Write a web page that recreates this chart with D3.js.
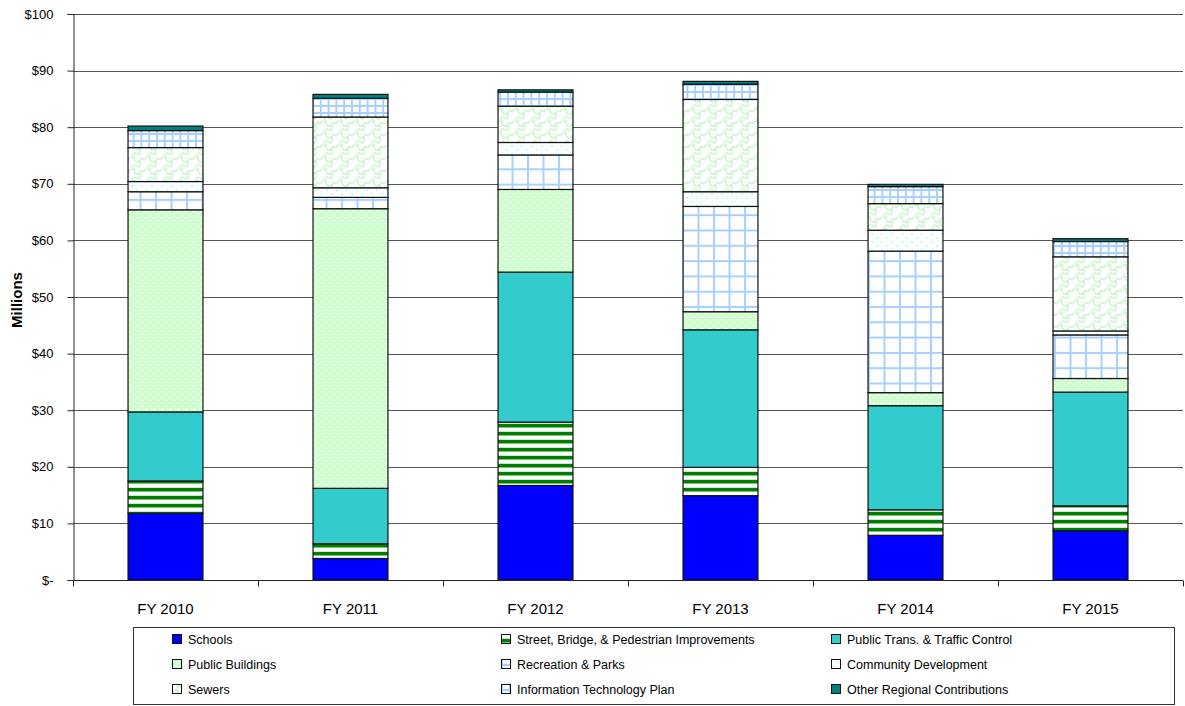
<!DOCTYPE html>
<html>
<head>
<meta charset="utf-8">
<script src="https://cdn.jsdelivr.net/npm/d3@7"></script>
<style>
  html, body { margin: 0; padding: 0; background: #fff; }
  svg { display: block; font-family: "Liberation Sans", Arial, sans-serif; }
</style>
</head>
<body>
<svg id="chart" width="1185" height="706"></svg>
<script>
// Capital spending by program area, $ millions
const years = ["FY 2010", "FY 2011", "FY 2012", "FY 2013", "FY 2014", "FY 2015"];
const seriesNames = [
  "Schools",
  "Street, Bridge, & Pedestrian Improvements",
  "Public Trans. & Traffic Control",
  "Public Buildings",
  "Recreation & Parks",
  "Community Development",
  "Sewers",
  "Information Technology Plan",
  "Other Regional Contributions"
];
const schools      = [11.8, 3.8, 16.7, 14.9, 7.9, 8.7];
const streets      = [5.7, 2.6, 11.2, 5.0, 4.5, 4.4];
const publicTrans  = [12.2, 9.8, 26.5, 24.3, 18.4, 20.1];
const publicBldgs  = [35.7, 49.4, 14.6, 3.2, 2.3, 2.4];
const recreation   = [3.2, 2.0, 6.1, 18.6, 25.0, 7.7];
const communityDev = [1.8, 1.7, 2.2, 2.6, 3.7, 0.7];
const sewers       = [6.0, 12.5, 6.4, 16.3, 4.7, 13.1];
const infoTech     = [3.0, 3.3, 2.5, 2.7, 3.0, 2.7];
const otherRegional= [0.8, 0.7, 0.4, 0.5, 0.4, 0.5];
const seriesValues = [schools, streets, publicTrans, publicBldgs, recreation, communityDev, sewers, infoTech, otherRegional];
const yTicks = [0, 10, 20, 30, 40, 50, 60, 70, 80, 90, 100];

const fills = ["#0000ff", "url(#p-street)", "#33cccc", "url(#p-bldg)", "url(#p-rec)",
               "url(#p-cd)", "url(#p-sewer)", "url(#p-it)", "#008080"];

const svg = d3.select("#chart");
const defs = svg.append("defs");

// Fill patterns
function pattern(id, w, h) {
  return defs.append("pattern").attr("id", id).attr("patternUnits", "userSpaceOnUse")
    .attr("width", w).attr("height", h);
}
let p = pattern("p-street", 8, 8);
p.append("rect").attr("width", 8).attr("height", 8).attr("fill", "#fff");
p.append("rect").attr("y", 0).attr("width", 8).attr("height", 3).attr("fill", "#008000");
p.append("rect").attr("y", 3).attr("width", 8).attr("height", 1).attr("fill", "#7fbf7f");
p.append("rect").attr("y", 7).attr("width", 8).attr("height", 1).attr("fill", "#cfe6cf");

p = pattern("p-bldg", 8, 6);
p.append("rect").attr("width", 8).attr("height", 6).attr("fill", "#ccffcc");
p.append("ellipse").attr("cx", 2).attr("cy", 1.5).attr("rx", 1.6).attr("ry", 0.8).attr("fill", "#fff");
p.append("ellipse").attr("cx", 6).attr("cy", 4.5).attr("rx", 1.6).attr("ry", 0.8).attr("fill", "#fff");

p = pattern("p-rec", 15.5, 15.3);
p.append("rect").attr("width", 15.5).attr("height", 15.3).attr("fill", "#fff");
p.append("rect").attr("x", 0).attr("width", 2).attr("height", 15.3).attr("fill", "#a8d0ff");
p.append("rect").attr("y", 0).attr("width", 15.5).attr("height", 2).attr("fill", "#a8d0ff");

p = pattern("p-cd", 10, 8);
p.append("rect").attr("width", 10).attr("height", 8).attr("fill", "#fff");
p.append("circle").attr("cx", 2).attr("cy", 2).attr("r", 0.9).attr("fill", "#99ffff");
p.append("circle").attr("cx", 7).attr("cy", 6).attr("r", 0.9).attr("fill", "#99ffff");

// Wavy interlocking pattern for sewers
p = pattern("p-sewer", 16, 12);
p.append("rect").attr("width", 16).attr("height", 12).attr("fill", "#fff");
p.append("path")
  .attr("d", "M0,4 C3,0 5,0 6,3 C7,7 10,7 12,4 C13,2 15,2 16,4 M4,12 C5,9 7,8 9,10 C10,11 11,11 12,10 M6,3 L6,0 M12,4 L12,10")
  .attr("fill", "none").attr("stroke", "#c8f5c8").attr("stroke-width", 1.4);

p = pattern("p-it", 7.8, 7);
p.append("rect").attr("width", 7.8).attr("height", 7).attr("fill", "#fff");
p.append("rect").attr("x", 0).attr("width", 2).attr("height", 7).attr("fill", "#a8d0ff");
p.append("rect").attr("y", 0).attr("width", 7.8).attr("height", 2).attr("fill", "#a8d0ff");

// Layout
const plotLeft = 73, plotRight = 1183, plotTop = 14, plotBottom = 580;

const x = d3.scaleBand().domain(years).range([plotLeft, plotRight]).paddingInner(0.595).paddingOuter(0.2975);
const y = d3.scaleLinear().domain([0, 100]).range([plotBottom, plotTop]);

// Gridlines
svg.append("g").selectAll("line").data(yTicks.filter(d => d > 0)).join("line")
  .attr("x1", plotLeft).attr("x2", plotRight)
  .attr("y1", d => Math.round(y(d)) + 0.5).attr("y2", d => Math.round(y(d)) + 0.5)
  .attr("stroke", "#555").attr("stroke-width", 1);

// Stacked bars
const rows = years.map((yr, i) => {
  const r = { year: yr };
  seriesNames.forEach((s, k) => r[s] = seriesValues[k][i]);
  return r;
});
const stacked = d3.stack().keys(seriesNames)(rows);

svg.append("g").selectAll("g").data(stacked).join("g")
  .attr("fill", (d, i) => fills[i])
  .selectAll("rect").data(d => d).join("rect")
  .attr("x", d => x(d.data.year))
  .attr("width", x.bandwidth())
  .attr("y", d => y(d[1]))
  .attr("height", d => y(d[0]) - y(d[1]))
  .attr("stroke", "#111").attr("stroke-width", 1.2);

// Y axis
const yAxis = d3.axisLeft(y).tickValues(yTicks).tickSize(6).tickPadding(14)
  .tickFormat(d => d === 0 ? "$-" : "$" + d);
const gy = svg.append("g").attr("transform", `translate(${plotLeft + 0.5},0)`).call(yAxis);
gy.select(".domain").attr("stroke", "#222");
gy.selectAll(".tick line").attr("stroke", "#222");
gy.selectAll("text").attr("font-size", 13).attr("fill", "#000")
  .attr("font-family", "'Liberation Sans', Arial, sans-serif");

// X axis
const gx = svg.append("g").attr("transform", `translate(0,${plotBottom + 0.5})`);
gx.append("line").attr("x1", plotLeft).attr("x2", plotRight).attr("stroke", "#222");
const bounds = years.map(yr => x(yr) - x.step() * x.paddingInner() / 2).concat([plotRight]);
gx.selectAll("line.tk").data(bounds).join("line").attr("class", "tk")
  .attr("x1", d => Math.round(d) + 0.5).attr("x2", d => Math.round(d) + 0.5)
  .attr("y1", 0).attr("y2", 6).attr("stroke", "#222");
gx.selectAll("text").data(years).join("text")
  .attr("x", d => x(d) + x.bandwidth() / 2).attr("y", 33)
  .attr("text-anchor", "middle").attr("font-size", 15).text(d => d);

// Y axis title
svg.append("text").attr("transform", "translate(22,300) rotate(-90)")
  .attr("text-anchor", "middle").attr("font-size", 15).attr("font-weight", "bold")
  .text("Millions");

// Legend
svg.append("rect").attr("x", 133.5).attr("y", 627.5).attr("width", 1041).attr("height", 77)
  .attr("fill", "#fff").attr("stroke", "#333");
const legCols = [172, 501, 831], legRows = [639, 664, 689];
const leg = svg.append("g").selectAll("g").data(seriesNames).join("g")
  .attr("transform", (d, i) => `translate(${legCols[i % 3]},${legRows[Math.floor(i / 3)]})`);
leg.append("rect").attr("x", 0.5).attr("y", -4.5).attr("width", 9).attr("height", 9)
  .attr("fill", (d, i) => fills[i]).attr("stroke", "#111").attr("stroke-width", 1);
leg.append("text").attr("x", 16).attr("y", 4.5).attr("font-size", 12.5).text(d => d);
</script>
</body>
</html>
